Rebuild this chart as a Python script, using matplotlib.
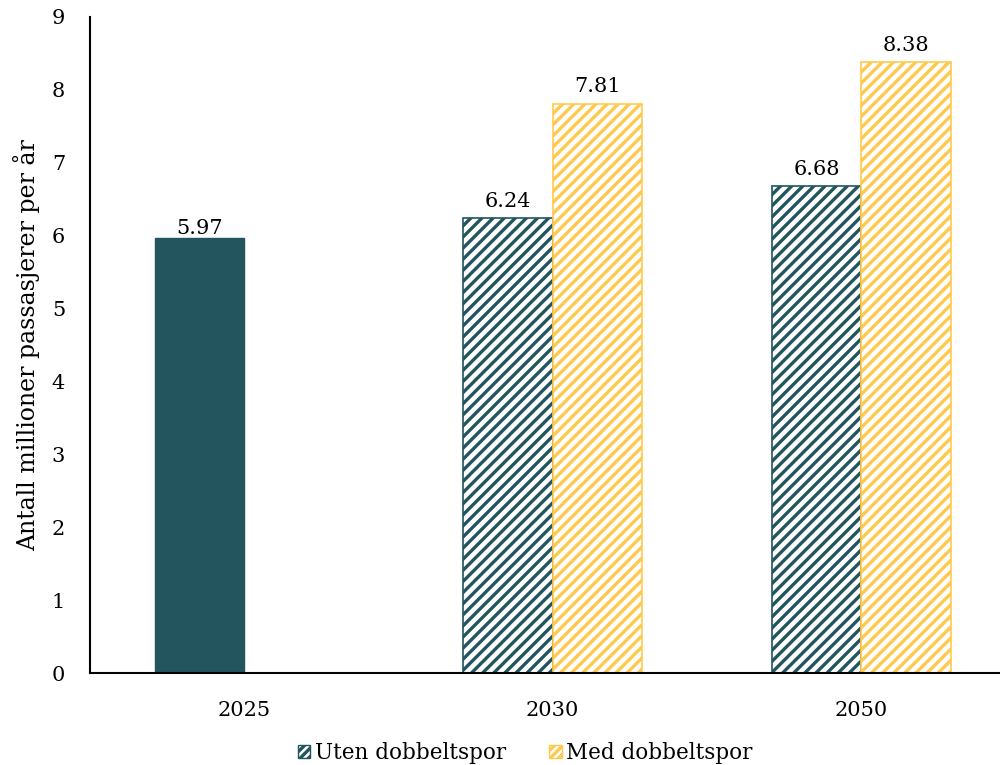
import matplotlib.pyplot as plt
import matplotlib as mpl
import numpy as np

years = ['2025', '2030', '2050']
uten = [5.97, 6.24, 6.68]
med = [np.nan, 7.81, 8.38]

teal = '#23555F'
yellow = '#FFC94D'

plt.rcParams['font.family'] = 'DejaVu Serif'
mpl.rcParams['hatch.linewidth'] = 2.4

fig = plt.figure(figsize=(10, 7.65), dpi=100)
ax = fig.add_axes([0.09, 0.12, 0.91, 0.858])

x = np.arange(len(years))
w = 0.29

for i in range(len(years)):
    if np.isnan(med[i]):
        ax.bar(x[i] - w / 2, uten[i], w, color=teal, edgecolor=teal)
    else:
        mpl.rcParams['hatch.color'] = teal
        ax.bar(x[i] - w / 2, uten[i], w, color='white', edgecolor=teal,
               hatch='///', linewidth=1.2)
        mpl.rcParams['hatch.color'] = yellow
        ax.bar(x[i] + w / 2, med[i], w, color='white', edgecolor=yellow,
               hatch='///', linewidth=1.2)
        ax.text(x[i] + w / 2, med[i] + 0.1, f'{med[i]:.2f}', ha='center',
                va='bottom', fontsize=15)
    ax.text(x[i] - w / 2, uten[i] + 0.1 if i else uten[i] + 0.0,
            f'{uten[i]:.2f}', ha='center', va='bottom', fontsize=15)

ax.set_xlim(-0.5, 2.45)
ax.set_ylim(0, 9)
ax.set_yticks(range(10))
ax.set_xticks(x)
ax.set_xticklabels(years)
ax.tick_params(axis='both', length=0, labelsize=15)
ax.tick_params(axis='y', pad=18)
ax.tick_params(axis='x', pad=20)
ax.spines['top'].set_visible(False)
ax.spines['right'].set_visible(False)
ax.spines['left'].set_linewidth(1.5)
ax.spines['bottom'].set_linewidth(1.5)
ax.set_ylabel('Antall millioner passasjerer per år', fontsize=17, labelpad=8)

mpl.rcParams['hatch.color'] = teal
h1 = mpl.patches.Patch(facecolor='white', edgecolor=teal, hatch='////', label='Uten dobbeltspor')
h2 = mpl.patches.Patch(facecolor='white', edgecolor=yellow, hatch='////', label='Med dobbeltspor')
leg = fig.legend(handles=[h1, h2], loc='lower center', bbox_to_anchor=(0.525, -0.024),
                 ncol=2, frameon=False, fontsize=15.5, handlelength=0.6,
                 handleheight=0.6, handletextpad=0.2, columnspacing=2.0)

fig.savefig('out.png')
